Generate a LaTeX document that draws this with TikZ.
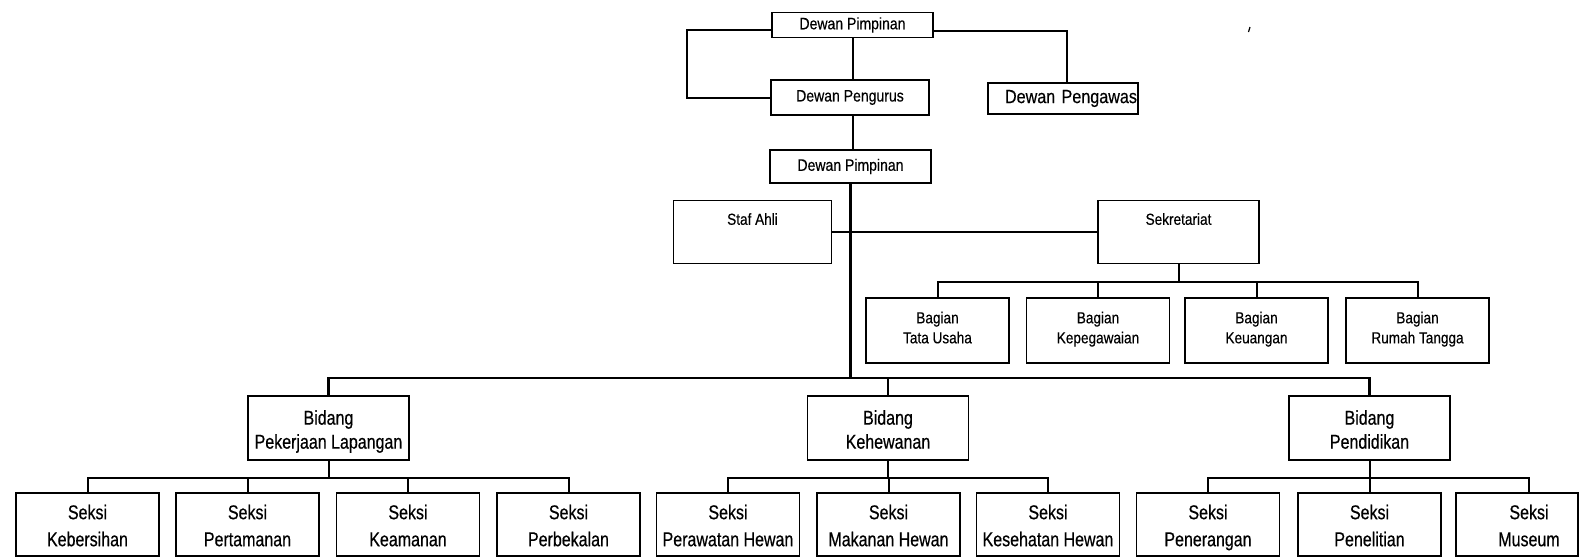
\documentclass[tikz,border=0pt]{standalone}
\usepackage{fontspec}
\setmainfont{Liberation Sans}
\newfontfamily\narrowf{Liberation Sans}[FakeStretch=0.85,FakeBold=0.4]
\newfontfamily\narrowg{Liberation Sans}[FakeStretch=0.80,FakeBold=0.5]
\newcommand\twolines[2]{\rule{0pt}{24.5pt}#1\\#2\strut}
\begin{document}
\begin{tikzpicture}[x=1pt,y=-1pt,
  box/.style={draw, line width=1.5pt, inner sep=0pt, align=center},
  topbox/.style={box, font=\narrowf\fontsize{16.5}{19}\selectfont},
  midbox/.style={box, font=\narrowf\fontsize{16}{26}\selectfont, minimum width=158pt, minimum height=63pt},
  bagbox/.style={box, font=\narrowf\fontsize{16}{20}\selectfont, minimum width=143pt, minimum height=65pt},
  bidbox/.style={box, font=\narrowg\fontsize{20}{24}\selectfont, minimum width=161pt, minimum height=64pt},
  seksibox/.style={box, font=\narrowg\fontsize{20}{27}\selectfont, minimum width=143pt, minimum height=63pt},
  conn/.style={line width=2pt, line join=miter},
  bus/.style={line width=2.6pt}]
\useasboundingbox (0,0) rectangle (1583,558);

% top level
\node[topbox, minimum width=161pt, minimum height=25pt] (pim1) at (852.5,25) {Dewan Pimpinan};
\node[topbox, minimum width=158pt, minimum height=35pt] (peng) at (850,97.5) {Dewan Pengurus};
\node[box, font=\narrowf\fontsize{19}{22}\selectfont, text width=148pt, inner xsep=1pt, align=right, minimum height=31pt] (pengawas) at (1063,98.5) {Dewan Pengawas};
\node[topbox, minimum width=161pt, minimum height=33pt] (pim2) at (850.5,166.5) {Dewan Pimpinan};

\draw[conn] ([yshift=-5pt]pim1.west) -- ++(-84,0) |- (peng.west);
\draw[conn] ([yshift=-6pt]pim1.east) -| ([xshift=4pt]pengawas.north);
\draw[conn] (pim1.south) -- (pim1.south |- peng.north);
\draw[conn] (pim1.south |- peng.south) -- (pim1.south |- pim2.north);

% staf & sekretariat
\node[midbox] (staf) at (752.5,232) {Staf Ahli\\\mbox{}};
\node[midbox, minimum width=161pt] (sek) at (1178.5,232) {Sekretariat\\\mbox{}};
\draw[conn] (staf.east) -- (sek.west);

% bagian
\node[bagbox] (bag1) at (937.5,330.5) {Bagian\\Tata Usaha\strut};
\node[bagbox] (bag2) at (1098,330.5) {Bagian\\Kepegawaian\strut};
\node[bagbox] (bag3) at (1256.5,330.5) {Bagian\\Keuangan\strut};
\node[bagbox] (bag4) at (1417.5,330.5) {Bagian\\Rumah Tangga\strut};
\draw[conn] (sek.south) -- ++(0,18) coordinate (bagbus);
\draw[conn] (bag1.north) |- (bagbus) -| (bag4.north);
\draw[conn] (bag2.north) -- (bag2.north |- bagbus);
\draw[conn] (bag3.north) -- (bag3.north |- bagbus);

% bidang
\node[bidbox] (bid1) at (328.5,428) {\twolines{Bidang}{Pekerjaan Lapangan}};
\node[bidbox] (bid2) at (888,428) {\twolines{Bidang}{Kehewanan}};
\node[bidbox] (bid3) at (1369.5,428) {\twolines{Bidang}{Pendidikan}};
\draw[bus] (pim2.south) -- (pim2.south |- 0,378) coordinate (bidbus);
\draw[bus] (bid1.north) |- (bidbus) -| (bid3.north);
\draw[bus] (bid2.north) -- (bid2.north |- bidbus);

% seksi
\node[seksibox] (s1) at (87.5,524.5) {\twolines{Seksi}{Kebersihan}};
\node[seksibox] (s2) at (247.5,524.5) {\twolines{Seksi}{Pertamanan}};
\node[seksibox] (s3) at (408,524.5) {\twolines{Seksi}{Keamanan}};
\node[seksibox] (s4) at (568.5,524.5) {\twolines{Seksi}{Perbekalan}};
\node[seksibox] (s5) at (728,524.5) {\twolines{Seksi}{Perawatan Hewan}};
\node[seksibox] (s6) at (888.5,524.5) {\twolines{Seksi}{Makanan Hewan}};
\node[seksibox] (s7) at (1048,524.5) {\twolines{Seksi}{Kesehatan Hewan}};
\node[seksibox] (s8) at (1208,524.5) {\twolines{Seksi}{Penerangan}};
\node[seksibox] (s9) at (1369.5,524.5) {\twolines{Seksi}{Penelitian}};
\node[seksibox, minimum width=122pt] (s10) at (1517,524.5) {};
\node[font=\narrowg\fontsize{20}{27}\selectfont, align=center, inner sep=0pt] (s10t) at (1529,524.5) {\twolines{Seksi}{Museum}};

\draw[conn] (bid1.south) -- ++(0,17) coordinate (sb1);
\draw[conn] (s1.north) |- (sb1) -| (s4.north);
\draw[conn] (s2.north) -- (s2.north |- sb1);
\draw[conn] (s3.north) -- (s3.north |- sb1);

\draw[conn] (bid2.south) -- ++(0,17) coordinate (sb2);
\draw[conn] (s5.north) |- (sb2) -| (s7.north);
\draw[conn] (s6.north) -- (s6.north |- sb2);

\draw[conn] (bid3.south) -- ++(0,17) coordinate (sb3);
\draw[conn] (s8.north) |- (sb3) -| (s10t.north |- s10.north);
\draw[conn] (s9.north) -- (s9.north |- sb3);

% small stray mark
\draw[line width=1.2pt] (1250,27) -- (1248.5,32);
\end{tikzpicture}
\end{document}
